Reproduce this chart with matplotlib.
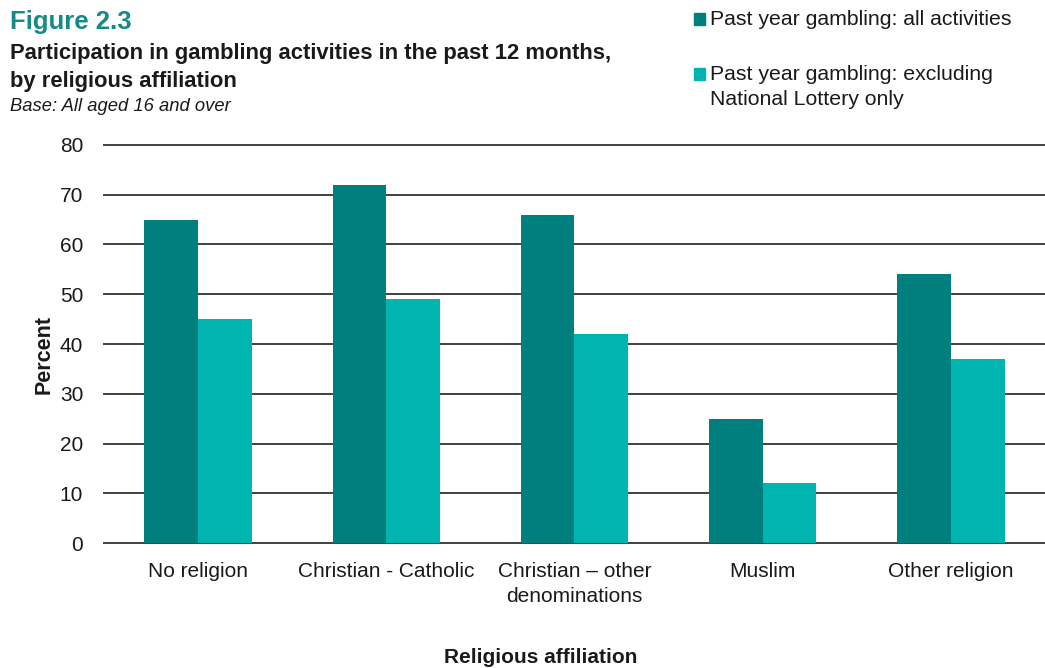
import numpy as np
import matplotlib
matplotlib.use("Agg")
import matplotlib.pyplot as plt
from matplotlib.patches import Rectangle

plt.rcParams['font.family'] = ['Liberation Sans', 'DejaVu Sans']

categories = ["No religion", "Christian - Catholic", "Christian \u2013 other\ndenominations",
              "Muslim", "Other religion"]
all_activities = [65, 72, 66, 25, 54]
excl_lottery = [45, 49, 42, 12, 37]
series_labels = ["Past year gambling: all activities",
                 "Past year gambling: excluding\nNational Lottery only"]
yticks = [0, 10, 20, 30, 40, 50, 60, 70, 80]

dark = "#007f7f"
light = "#00b5b0"
text_col = "#1a1a1a"

fig = plt.figure(figsize=(10.45, 6.68), dpi=100)
ax = fig.add_axes([0.0995, 0.187, 0.9005, 0.596])

x = np.arange(len(categories))
w = 0.285
ax.bar(x - w / 2, all_activities, w, color=dark, zorder=3)
ax.bar(x + w / 2, excl_lottery, w, color=light, zorder=3)

ax.set_xlim(-0.5, len(categories) - 0.5)
ax.set_ylim(0, 80)
ax.set_yticks(yticks)
ax.yaxis.grid(True, color="#404040", linewidth=1.4, zorder=0)
for gl in ax.get_ygridlines():
    gl.set_clip_on(False)
ax.set_axisbelow(True)
for s in ax.spines.values():
    s.set_visible(False)
ax.tick_params(axis="both", length=0, labelsize=15, colors=text_col)
ax.tick_params(axis="y", pad=15)
ax.tick_params(axis="x", pad=13.5)
ax.set_xticks(x)
ax.set_xticklabels(categories, va="top", ha="center", linespacing=1.4)

# axis titles
fig.text(0.042, 0.469, "Percent", fontsize=15.5, fontweight="bold", color=text_col,
         rotation=90, ha="center", va="center")
fig.text(0.517, 0.0075, "Religious affiliation", fontsize=15, fontweight="bold",
         color=text_col, ha="center", va="baseline")

# headings
fig.text(0.01, 0.956, "Figure 2.3", fontsize=18.5, fontweight="bold", color="#168a88",
         va="baseline")
fig.text(0.01, 0.870, "Participation in gambling activities in the past 12 months,\nby religious affiliation",
         fontsize=15.8, fontweight="bold", color=text_col, va="baseline", linespacing=1.42)
fig.text(0.01, 0.834, "Base: All aged 16 and over", fontsize=13.2, style="italic",
         color=text_col, va="baseline")

# legend: square marker + label, first line of each label next to its square
square_cy = [19, 74]
label_base = [25, 105]
for col, lab, cy, by in zip([dark, light], series_labels, square_cy, label_base):
    fig.patches.append(Rectangle((694 / 1045, 1 - (cy + 5.5) / 668), 11 / 1045, 11 / 668,
                                 transform=fig.transFigure, color=col))
    fig.text(710 / 1045, 1 - by / 668, lab, fontsize=15.3, color=text_col,
             va="baseline", linespacing=1.42)

fig.savefig("out.png", dpi=100)
